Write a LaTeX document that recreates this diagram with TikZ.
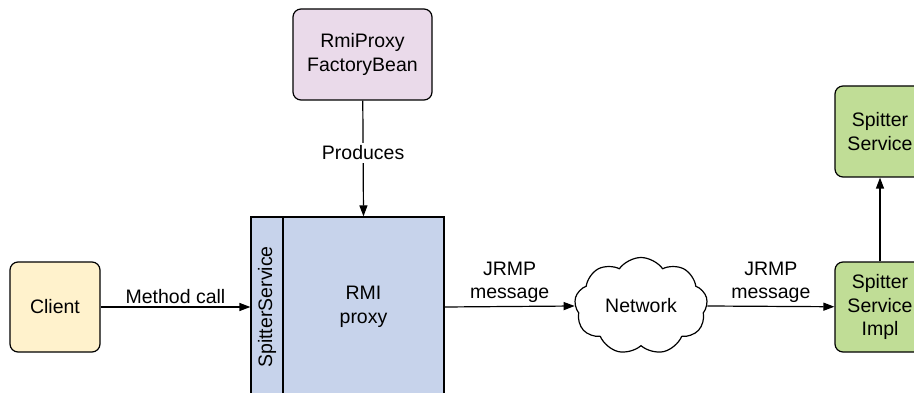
\documentclass[tikz,border=0pt]{standalone}
\usepackage{fontspec}
\setmainfont{Liberation Sans}
\usetikzlibrary{arrows.meta,shapes.symbols}

\definecolor{clientfill}{RGB}{255,242,204}
\definecolor{beanfill}{RGB}{234,218,234}
\definecolor{proxyfill}{RGB}{199,211,235}
\definecolor{servicefill}{RGB}{192,221,150}

\begin{document}
\begin{tikzpicture}[x=1pt,y=-1pt,
  font=\fontsize{19.5}{23.5}\selectfont,
  line width=1.2pt,
  box/.style={draw,rounded corners=8pt,align=center,minimum width=90pt,minimum height=90pt,inner sep=2pt},
  part/.style={draw,fill=proxyfill,align=center,minimum height=180pt,inner sep=0pt},
  link/.style={-{Triangle[length=11pt,width=8pt]}},
  tag/.style={align=center,inner sep=3pt}]
\useasboundingbox (0,0) rectangle (914,393);
\clip (0,0) rectangle (914,393);
\node[box,fill=clientfill] (client) at (55,307) {Client};
\node[box,fill=beanfill,minimum width=139pt,minimum height=91pt] (factory) at (362.5,54.5) {RmiProxy\\FactoryBean};
\node[part,minimum width=32pt] (iface) at (267,307) {};
\node[rotate=90] at (iface.center) {SpitterService};
\node[part,minimum width=161pt] (proxy) at (363.5,307) {RMI\\proxy};
\node[draw,cloud,cloud puffs=9,cloud puff arc=110,aspect=1.4,minimum width=133pt,minimum height=97pt,inner sep=0pt] (net) at (641,306) {Network};
\node[box,fill=servicefill] (impl) at (880,307) {Spitter\\Service\\Impl};
\node[box,fill=servicefill,minimum height=91pt] (service) at (880,131.5) {Spitter\\Service};
\draw[link] (client) -- node[tag,above] {Method call} (iface);
\draw[link] (factory) -- node[tag,fill=white,pos=0.45] {Produces} (proxy.north);
\draw[link] (proxy.east) -- node[tag,above] {JRMP\\message} (net.west);
\draw[link] (net.east) -- node[tag,above] {JRMP\\message} (impl);
\draw[link] (impl) -- (service);
\end{tikzpicture}
\end{document}
